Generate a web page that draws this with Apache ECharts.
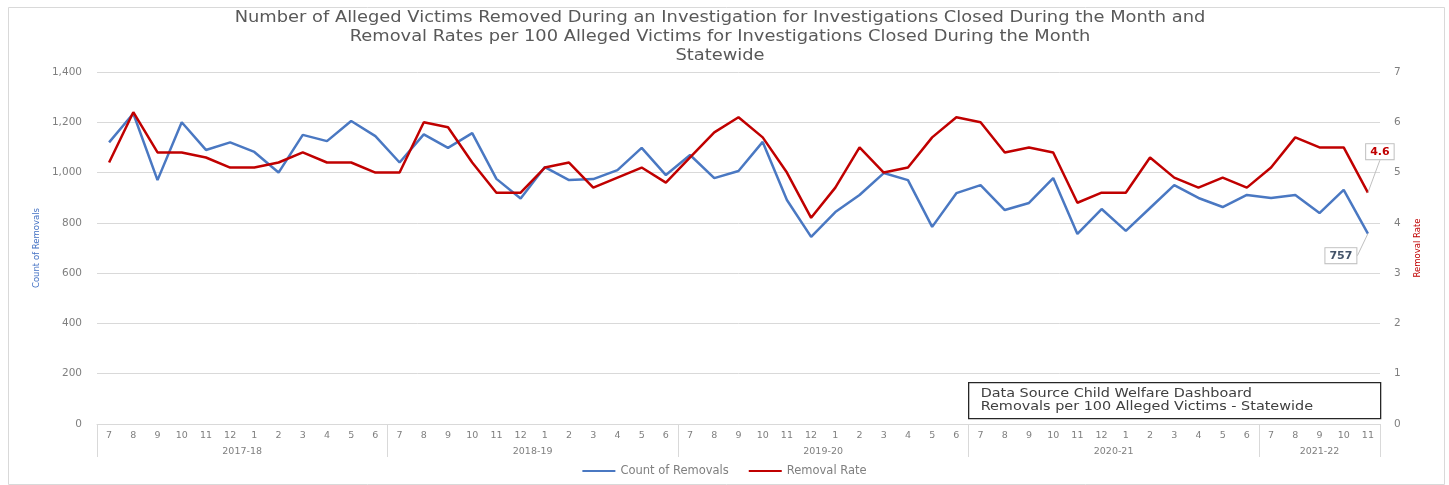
<!DOCTYPE html>
<html>
<head>
<meta charset="UTF-8">
<title>Removals</title>
<script src="https://cdn.jsdelivr.net/npm/echarts@6/dist/echarts.min.js"></script>
<style>
html, body { margin: 0; padding: 0; background: #fff; }
#main { width: 1449px; height: 485px; }
</style>
</head>
<body>
<div id="main"></div>
<script>
// months of each fiscal year, 2017-18 .. 2021-22
var years = ['2017-18', '2018-19', '2019-20', '2020-21', '2021-22'];
var yearMonths = [
  [7, 8, 9, 10, 11, 12, 1, 2, 3, 4, 5, 6],
  [7, 8, 9, 10, 11, 12, 1, 2, 3, 4, 5, 6],
  [7, 8, 9, 10, 11, 12, 1, 2, 3, 4, 5, 6],
  [7, 8, 9, 10, 11, 12, 1, 2, 3, 4, 5, 6],
  [7, 8, 9, 10, 11]
];
var removals = [
  1120, 1235, 970, 1200, 1090, 1120, 1082, 1000, 1150, 1125, 1205, 1145,
  1040, 1152, 1098, 1157, 975, 897, 1022, 970, 974, 1010, 1098, 990,
  1070, 978, 1006, 1122, 891, 744, 843, 911, 998, 970, 784, 918,
  950, 851, 879, 978, 756, 855, 768, 859, 950, 899, 863, 911,
  899, 911, 839, 931, 757
];
var rates = [
  5.2, 6.2, 5.4, 5.4, 5.3, 5.1, 5.1, 5.2, 5.4, 5.2, 5.2, 5.0,
  5.0, 6.0, 5.9, 5.2, 4.6, 4.6, 5.1, 5.2, 4.7, 4.9, 5.1, 4.8,
  5.3, 5.8, 6.1, 5.7, 5.0, 4.1, 4.7, 5.5, 5.0, 5.1, 5.7, 6.1,
  6.0, 5.4, 5.5, 5.4, 4.4, 4.6, 4.6, 5.3, 4.9, 4.7, 4.9, 4.7,
  5.1, 5.7, 5.5, 5.5, 4.6
];

var months = [], yearCats = [], bounds = {}, yearLabelAt = {};
var idx = 0;
yearMonths.forEach(function (ms, y) {
  bounds[idx] = true;
  var mid = (ms.length - 1) / 2;
  yearLabelAt[idx + Math.floor(mid)] = { text: years[y], half: mid % 1 !== 0 };
  ms.forEach(function (m) {
    months.push(String(m));
    yearCats.push(idx);
    idx++;
  });
});

var gray = '#7f7f7f';
var font = 'DejaVu Sans';
var last = removals.length - 1;

// only the last point of each line carries a value box
function withEndLabel(arr, text, color) {
  return arr.map(function (v, i) {
    if (i !== last) return v;
    return {
      value: v,
      label: {
        show: true, position: 'inside', formatter: text,
        fontFamily: font, fontSize: 11, fontWeight: 'bold', color: color,
        borderColor: '#bfbfbf', borderWidth: 1, backgroundColor: '#fff', padding: [2, 4]
      }
    };
  });
}
function endShift(dx, dy) {
  return function (p) { return p.dataIndex === last ? { dx: dx, dy: dy } : {}; };
}

var chart = echarts.init(document.getElementById('main'));
var option = {
  backgroundColor: '#fff',
  animation: false,
  legend: {
    bottom: 3, left: 'center', itemWidth: 33, itemHeight: 2, itemGap: 20,
    icon: 'rect',
    textStyle: { fontFamily: font, fontSize: 11.5, color: gray },
    data: ['Count of Removals', 'Removal Rate']
  },
  grid: { left: 97, right: 69, top: 72, bottom: 61 },
  xAxis: [
    {
      type: 'category', data: months, position: 'bottom',
      axisLine: { lineStyle: { color: '#d9d9d9', type: 'dotted' } },
      axisTick: { show: false },
      axisLabel: { fontFamily: font, fontSize: 9.5, color: gray, margin: 7, interval: 0 }
    },
    {
      type: 'category', data: yearCats, position: 'bottom', offset: 0,
      axisLine: { show: false },
      axisTick: {
        show: true, length: 33, lineStyle: { color: '#d9d9d9' },
        interval: function (i) { return bounds[i] === true; }
      },
      axisLabel: {
        margin: 23, interval: 0,
        formatter: function (v, i) {
          var l = yearLabelAt[i];
          if (!l) return '';
          return l.half ? '{h|' + l.text + '}' : '{c|' + l.text + '}';
        },
        rich: {
          h: { fontFamily: font, fontSize: 9.5, color: gray, padding: [0, 0, 0, 24] },
          c: { fontFamily: font, fontSize: 9.5, color: gray }
        }
      }
    }
  ],
  yAxis: [
    {
      type: 'value', min: 0, max: 1400, interval: 200,
      name: 'Count of Removals', nameLocation: 'middle', nameGap: 56, nameRotate: 90,
      nameTextStyle: { fontFamily: font, fontSize: 8.5, color: '#4472c4' },
      axisLabel: {
        fontFamily: font, fontSize: 10.5, color: gray, margin: 15,
        formatter: function (v) { return v.toLocaleString('en-US'); }
      },
      splitLine: { lineStyle: { color: '#d9d9d9', width: 1 } },
      axisLine: { show: false }, axisTick: { show: false }
    },
    {
      type: 'value', min: 0, max: 7, interval: 1,
      name: 'Removal Rate', nameLocation: 'middle', nameGap: 33, nameRotate: 90,
      nameTextStyle: { fontFamily: font, fontSize: 8.5, color: '#c00000' },
      axisLabel: { fontFamily: font, fontSize: 10.5, color: gray, margin: 14 },
      splitLine: { show: false },
      axisLine: { show: false }, axisTick: { show: false }
    }
  ],
  series: [
    {
      name: 'Count of Removals', type: 'line',
      data: withEndLabel(removals, '757', '#44546a'),
      xAxisIndex: 0, yAxisIndex: 0, symbol: 'circle', symbolSize: 0.1, showSymbol: true,
      lineStyle: { color: '#4a78c2', width: 2.5 }, itemStyle: { color: '#4a78c2' },
      label: { show: false },
      labelLayout: endShift(-27, 22),
      labelLine: { show: true, lineStyle: { color: '#bfbfbf', width: 1 } }
    },
    {
      name: 'Removal Rate', type: 'line',
      data: withEndLabel(rates, '4.6', '#c00000'),
      xAxisIndex: 0, yAxisIndex: 1, symbol: 'circle', symbolSize: 0.1, showSymbol: true,
      lineStyle: { color: '#c00000', width: 2.5 }, itemStyle: { color: '#c00000' },
      label: { show: false },
      labelLayout: endShift(12, -41),
      labelLine: { show: true, lineStyle: { color: '#bfbfbf', width: 1 } }
    }
  ],
  graphic: [
    {
      type: 'rect', left: 6, top: 5,
      shape: { width: 1436, height: 477 },
      style: { fill: 'none', stroke: '#d9d9d9', lineWidth: 1 }, silent: true
    },
    {
      // chart title, drawn a little wide like the original
      type: 'text', x: 720, y: 9, scaleX: 1.19,
      style: {
        text: 'Number of Alleged Victims Removed During an Investigation for Investigations Closed During the Month and\nRemoval Rates per 100 Alleged Victims for Investigations Closed During the Month\nStatewide',
        font: '15px "DejaVu Sans"', fill: '#595959', lineHeight: 19, align: 'center'
      }
    },
    {
      type: 'group', left: 968, top: 382,
      children: [
        { type: 'rect', shape: { width: 412, height: 36 }, style: { fill: '#fff', stroke: '#262626', lineWidth: 1.3 } },
        {
          type: 'text', x: 12, y: 5, scaleX: 1.2,
          style: {
            text: 'Data Source Child Welfare Dashboard\nRemovals per 100 Alleged Victims - Statewide',
            font: '12px "DejaVu Sans"', fill: '#404040', lineHeight: 13
          }
        }
      ]
    }
  ]
};
chart.setOption(option);
</script>
</body>
</html>
